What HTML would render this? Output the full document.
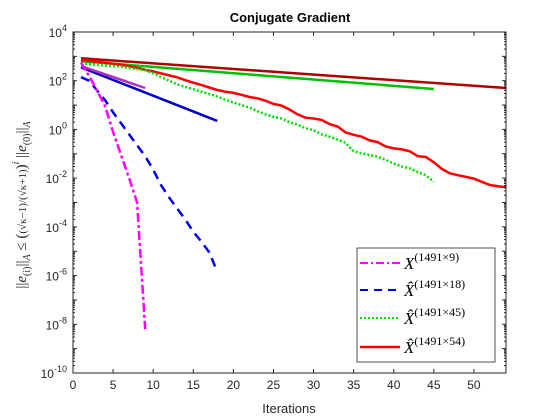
<!DOCTYPE html>
<html><head><meta charset="utf-8"><style>
body{margin:0;background:#fff;}
svg{display:block;font-family:"Liberation Sans",sans-serif;}
</style></head><body>
<svg id="chart" width="560" height="420">
<rect width="560" height="420" fill="#fff"/>
<rect x="73" y="32" width="433" height="341" fill="#fff"/>
<g id="marks"></g>
<g id="axes"></g>
<text x="290" y="22" text-anchor="middle" font-size="13" font-weight="bold">Conjugate Gradient</text>
<text x="289" y="413" text-anchor="middle" font-size="13" fill="#262626">Iterations</text>
<text transform="translate(26,205) rotate(-90)" text-anchor="middle" font-family="Liberation Serif,serif" font-size="15" fill="#262626">||<tspan font-style="italic">e</tspan><tspan font-size="10" dy="4">(i)</tspan><tspan dy="-4">||</tspan><tspan font-style="italic" font-size="10" dy="4">A</tspan><tspan dy="-4"> ≤ (</tspan><tspan font-size="11">(√κ−1)/(√κ+1)</tspan><tspan>)</tspan><tspan font-style="italic" font-size="10" dy="-7">i</tspan><tspan dy="7"> ||</tspan><tspan font-style="italic">e</tspan><tspan font-size="10" dy="4">(0)</tspan><tspan dy="-4">||</tspan><tspan font-style="italic" font-size="10" dy="4">A</tspan></text>
<g>
<rect x="357" y="248" width="138" height="114" fill="#fff" stroke="#262626" stroke-width="0.8"/>
<line x1="360" y1="263" x2="400" y2="263" stroke="#ff00ff" stroke-width="2" stroke-dasharray="8,3,2,3"/>
<text x="404" y="269" font-family="Liberation Serif,serif" font-size="17" font-style="italic">X<tspan font-style="normal" font-size="12" dy="-8">(1491×9)</tspan></text>
<line x1="360" y1="290" x2="400" y2="290" stroke="#0000dd" stroke-width="2" stroke-dasharray="8,6"/>
<text x="404" y="296" font-family="Liberation Serif,serif" font-size="17" font-style="italic">X̂<tspan font-style="normal" font-size="12" dy="-8">(1491×18)</tspan></text>
<line x1="360" y1="318" x2="400" y2="318" stroke="#00dd00" stroke-width="2" stroke-dasharray="2,2"/>
<text x="404" y="324" font-family="Liberation Serif,serif" font-size="17" font-style="italic">X̂<tspan font-style="normal" font-size="12" dy="-8">(1491×45)</tspan></text>
<line x1="360" y1="347" x2="400" y2="347" stroke="#ff0000" stroke-width="2.5"/>
<text x="404" y="353" font-family="Liberation Serif,serif" font-size="17" font-style="italic">X̂<tspan font-style="normal" font-size="12" dy="-8">(1491×54)</tspan></text>
</g>
</svg>
<script>
// log10 of error values per iteration (starting at iteration 1)
const magentaLog=[2.75,2.2,1.6,0.95,-0.1,-1.05,-2.0,-3.0,-8.2];
const blueLog=[2.15,2.0,1.6,1.2,0.7,0.25,-0.2,-0.65,-1.1,-1.65,-2.3,-2.8,-3.25,-3.7,-4.2,-4.6,-5.05,-5.85];
const greenLog=[2.7,2.68,2.65,2.62,2.6,2.58,2.52,2.48,2.43,2.3,2.15,2.0,1.85,1.75,1.65,1.55,1.45,1.35,1.22,1.1,1.0,0.9,0.75,0.62,0.52,0.45,0.3,0.2,0.05,-0.03,-0.2,-0.3,-0.42,-0.55,-0.9,-0.98,-1.05,-1.12,-1.25,-1.4,-1.52,-1.6,-1.75,-1.88,-2.15];
const redLog=[2.85,2.82,2.78,2.74,2.7,2.65,2.6,2.53,2.45,2.38,2.3,2.22,2.14,2.02,1.92,1.83,1.72,1.62,1.55,1.5,1.42,1.33,1.28,1.18,1.05,0.98,0.82,0.62,0.48,0.45,0.39,0.22,0.12,-0.12,-0.22,-0.3,-0.45,-0.52,-0.7,-0.78,-0.82,-0.9,-1.1,-1.13,-1.35,-1.62,-1.8,-1.88,-1.95,-2.02,-2.15,-2.28,-2.33,-2.37];
// bound lines: [iteration, log10 value] at start and end
const boundMagenta=[[1,2.6],[9,1.7]];
const boundBlue=[[1,2.55],[18,0.35]];
const boundGreen=[[1,2.8],[45,1.66]];
const boundRed=[[1,2.92],[54,1.7]];
const xTicks=[0,5,10,15,20,25,30,35,40,45,50];
const yTickExps=[-10,-8,-6,-4,-2,0,2,4];

const NS="http://www.w3.org/2000/svg";
const X0=73,X1=506,Y0=32,Y1=373,XMAX=54,EMIN=-10,EMAX=4;
const sx=v=>X0+(v/XMAX)*(X1-X0);
const sy=e=>Y1-(e-EMIN)/(EMAX-EMIN)*(Y1-Y0);
const marks=document.getElementById('marks'),axes=document.getElementById('axes');
function mk(tag,attrs,parent){const el=document.createElementNS(NS,tag);for(const k in attrs)el.setAttribute(k,attrs[k]);parent.appendChild(el);return el;}
function pathFrom(pts){return pts.map((p,i)=>(i?'L':'M')+sx(p[0]).toFixed(1)+','+sy(p[1]).toFixed(1)).join('');}
function series(arr){return arr.map((v,i)=>[i+1,v]);}

let el;
el=mk('path',{d:pathFrom(boundRed),stroke:'#b00000',fill:'none','stroke-width':2.5},marks);


el=mk('path',{d:pathFrom(boundGreen),stroke:'#00c000',fill:'none','stroke-width':2.5},marks);


el=mk('path',{d:pathFrom(boundBlue),stroke:'#0000cc',fill:'none','stroke-width':2.5},marks);


el=mk('path',{d:pathFrom(boundMagenta),stroke:'#b030c0',fill:'none','stroke-width':2.5},marks);


el=mk('path',{d:pathFrom(series(redLog)),stroke:'#ff0000',fill:'none','stroke-width':2.5},marks);


el=mk('path',{d:pathFrom(series(greenLog)),stroke:'#00e000',fill:'none','stroke-width':2.5,'stroke-dasharray':'2,2'},marks);


el=mk('path',{d:pathFrom(series(blueLog)),stroke:'#0000ee',fill:'none','stroke-width':2.5,'stroke-dasharray':'9,6'},marks);


el=mk('path',{d:pathFrom(series(magentaLog)),stroke:'#ff00ff',fill:'none','stroke-width':2.5,'stroke-dasharray':'9,3,3,3'},marks);



// axes box
el=mk('rect',{x:X0,y:Y0,width:X1-X0,height:Y1-Y0,fill:'none',stroke:'#262626','stroke-width':1},axes);


xTicks.forEach(t=>{
  const x=sx(t);
  mk('line',{x1:x,y1:Y1,x2:x,y2:Y1-4,stroke:'#262626'},axes);
  mk('line',{x1:x,y1:Y0,x2:x,y2:Y0+4,stroke:'#262626'},axes);
  const tx=mk('text',{x:x,y:Y1+16,'text-anchor':'middle','font-size':12,fill:'#262626'},axes);
  tx.textContent=t;
  
  
});
for(let e=EMIN;e<EMAX;e++){
  for(let m=2;m<=9;m++){
    const y=sy(e+Math.log10(m));
    mk('line',{x1:X0,y1:y,x2:X0+2,y2:y,stroke:'#262626'},axes);
    mk('line',{x1:X1,y1:y,x2:X1-2,y2:y,stroke:'#262626'},axes);
  }
}
for(let e=EMIN;e<=EMAX;e++){
  const y=sy(e);
  mk('line',{x1:X0,y1:y,x2:X0+4,y2:y,stroke:'#262626'},axes);
  mk('line',{x1:X1,y1:y,x2:X1-4,y2:y,stroke:'#262626'},axes);
}
yTickExps.forEach(e=>{
  const y=sy(e);
  const tx=mk('text',{x:X0-6,y:y+5,'text-anchor':'end','font-size':12,fill:'#262626'},axes);
  tx.innerHTML='10<tspan font-size="9" dy="-6">'+e+'</tspan>';
  
  
});
</script>
</body></html>
